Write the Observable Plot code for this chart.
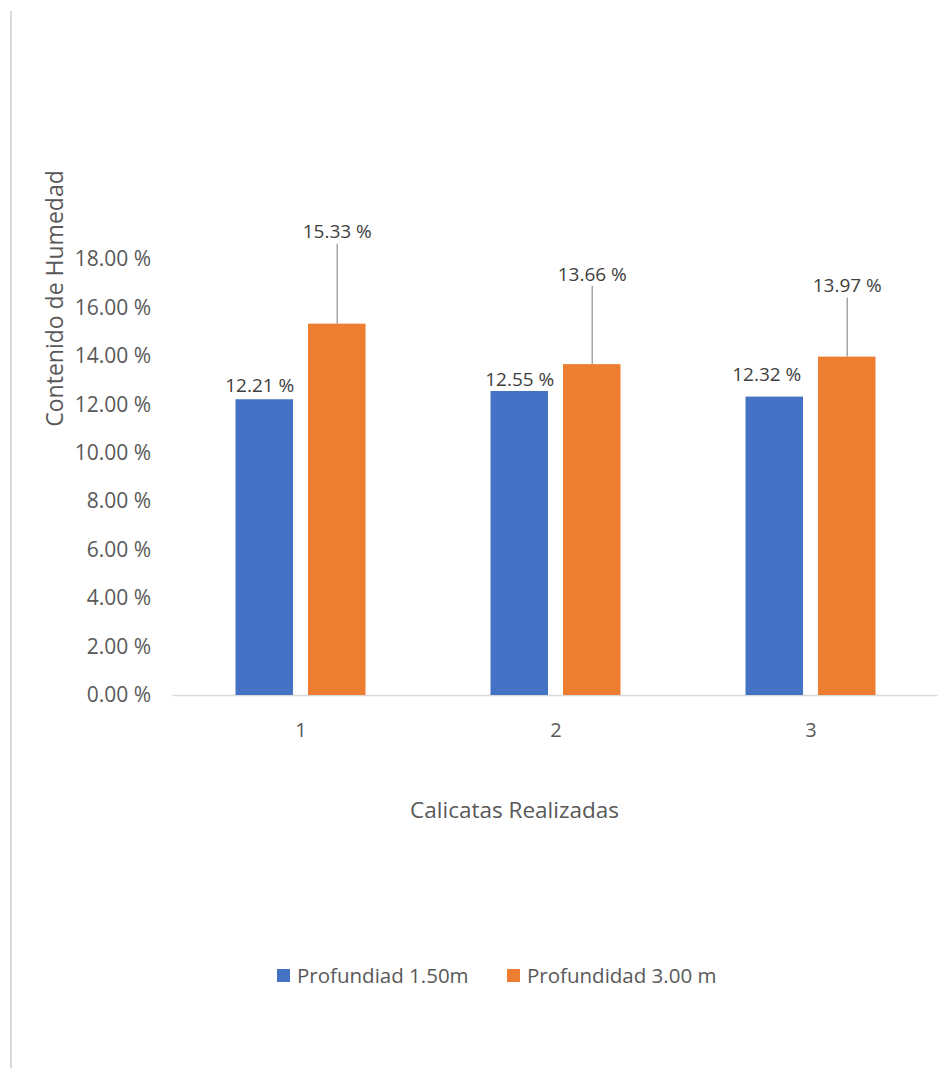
<!DOCTYPE html>
<html>
<head>
<meta charset="utf-8">
<script src="https://cdn.jsdelivr.net/npm/d3@7"></script>
<script src="https://cdn.jsdelivr.net/npm/@observablehq/plot@0.6"></script>
<style>
  html, body { margin: 0; padding: 0; background: #fff; }
  #page { position: relative; width: 944px; height: 1068px; overflow: hidden; font-family: "Open Sans", sans-serif; }
  #chart { position: absolute; left: 0; top: 0; z-index: 1; }
  #edge { position: absolute; left: 10px; top: 11px; bottom: 0; width: 2px; background: #d9d9d9; z-index: 2; }
  .legend-item { position: absolute; top: 965px; display: flex; align-items: center; color: #595959; font-size: 20.5px; line-height: 1; white-space: nowrap; z-index: 2; }
  .swatch { width: 13px; height: 13px; margin-right: 7px; }
</style>
</head>
<body>
<div id="page">
  <div id="chart"></div>
  <div id="edge"></div>
  <div id="legend"></div>
</div>
<script>
// Moisture content per test pit, at two depths
const calicatas = ["1", "2", "3"];
const series = ["Profundiad 1.50m", "Profundidad 3.00 m"];
const prof150 = [12.21, 12.55, 12.32];
const prof300 = [15.33, 13.66, 13.97];
const yTicks = [0, 2, 4, 6, 8, 10, 12, 14, 16, 18];
const colors = ["#4472C4", "#ED7D31"];

const yTitle = "Contenido de Humedad";
const xTitle = "Calicatas Realizadas";

// label placement (pixels) for the hand-placed data labels
const blueLabelShift = [{dx: -5, dy: -14}, {dx: 0, dy: -12}, {dx: -8, dy: -22}];
const orangeLift = [92, 90, 71];

const rows = calicatas.flatMap((c, i) => [
  {cal: c, serie: series[0], value: prof150[i]},
  {cal: c, serie: series[1], value: prof300[i]}
]);
const fmt = v => v.toFixed(2) + " %";

const half = 36.25;        // offset of each bar from the category centre
const inset = 98.75;       // leaves ~57px wide bars in a 255px band

const blueRows = rows.filter(d => d.serie === series[0]);
const orangeRows = rows.filter(d => d.serie === series[1]);

const marks = [
  Plot.axisY({ticks: yTicks, tickFormat: fmt, tickSize: 0, tickPadding: 22, fontSize: 21, fill: "#595959", label: null}),
  Plot.axisX({tickSize: 0, tickPadding: 27, fontSize: 20, fill: "#595959", label: null}),
  Plot.ruleY([0], {stroke: "#d9d9d9", strokeWidth: 1.5}),
  Plot.barY(blueRows, {x: "cal", y: "value", fill: colors[0], insetLeft: inset, insetRight: inset, dx: -half}),
  Plot.barY(orangeRows, {x: "cal", y: "value", fill: colors[1], insetLeft: inset, insetRight: inset, dx: half}),
  ...blueRows.map((d, i) => Plot.text([d], {
    x: "cal", y: "value", text: r => fmt(r.value),
    dx: -half + blueLabelShift[i].dx, dy: blueLabelShift[i].dy,
    fill: "#404040", fontSize: 19, textAnchor: "middle", lineAnchor: "middle"
  })),
  ...orangeRows.map((d, i) => Plot.ruleX([d], {
    x: "cal", y1: "value", y2: "value", dx: half,
    insetBottom: orangeLift[i] - 12, stroke: "#a6a6a6", strokeWidth: 1.5
  })),
  ...orangeRows.map((d, i) => Plot.text([d], {
    x: "cal", y: "value", text: r => fmt(r.value),
    dx: half, dy: -orangeLift[i],
    fill: "#404040", fontSize: 19, textAnchor: "middle", lineAnchor: "middle"
  })),
  Plot.text([yTitle], {
    frameAnchor: "top-left", dx: -117.5, dy: 39, rotate: -90,
    textAnchor: "middle", lineAnchor: "middle", fontSize: 23, fill: "#595959"
  }),
  Plot.text([xTitle], {
    frameAnchor: "bottom", dx: -41, dy: 115,
    textAnchor: "middle", lineAnchor: "middle", fontSize: 22.5, fill: "#595959"
  })
];

const chart = Plot.plot({
  width: 944,
  height: 900,
  marginTop: 259,
  marginBottom: 205,
  marginLeft: 172.5,
  marginRight: 6.5,
  style: {fontFamily: "'Open Sans', sans-serif", fontSize: "20px", color: "#595959", background: "white", overflow: "visible"},
  x: {type: "band", domain: calicatas, padding: 0},
  y: {domain: [0, 18]},
  marks
});
document.getElementById("chart").appendChild(chart);

// legend
const legend = document.getElementById("legend");
const legendLeft = [277, 507];
series.forEach((s, i) => {
  const item = document.createElement("div");
  item.className = "legend-item";
  item.style.left = legendLeft[i] + "px";
  const sw = document.createElement("span");
  sw.className = "swatch";
  sw.style.background = colors[i];
  const label = document.createElement("span");
  label.textContent = s;
  item.appendChild(sw);
  item.appendChild(label);
  legend.appendChild(item);
});
</script>
</body>
</html>
